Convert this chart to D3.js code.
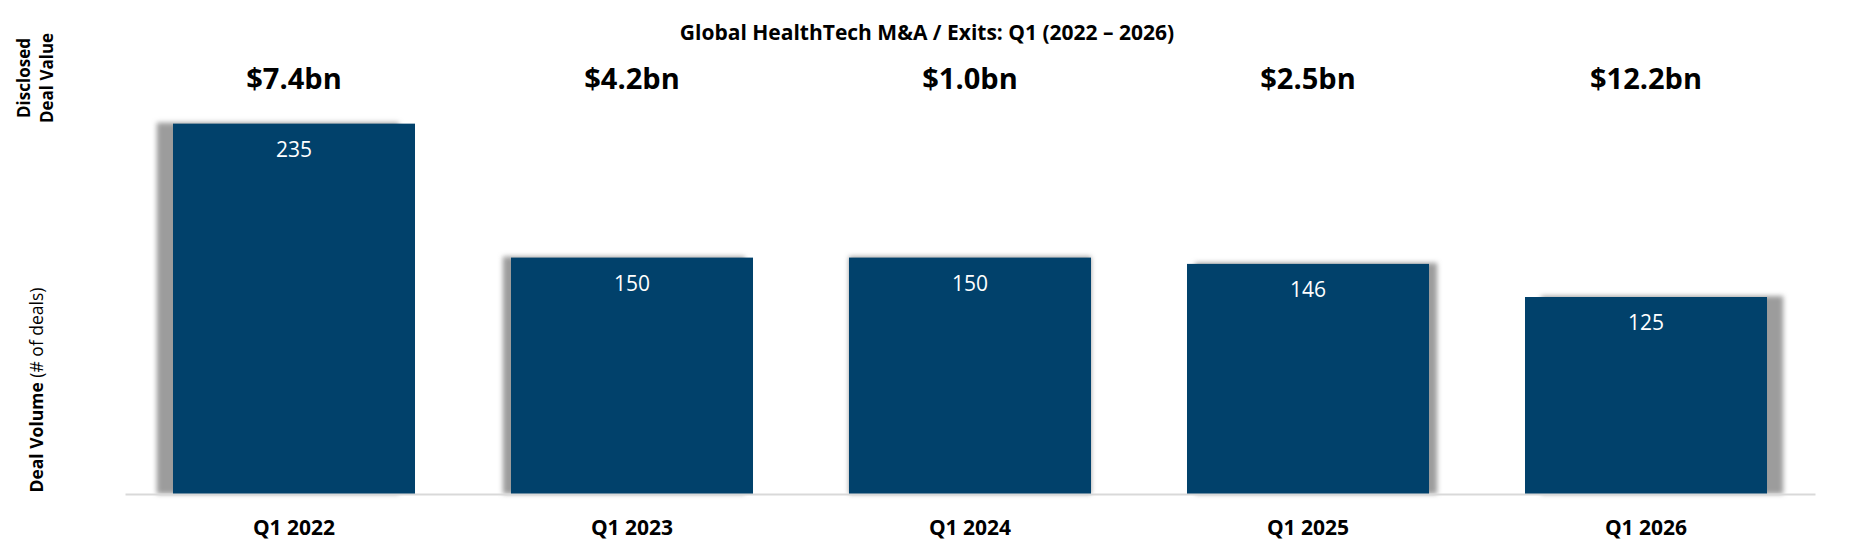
<!DOCTYPE html>
<html>
<head>
<meta charset="utf-8">
<script src="https://cdn.jsdelivr.net/npm/d3@7"></script>
<style>
    body { margin: 0; background: #ffffff; }
    svg { display: block; font-family: "Open Sans", "Noto Sans", sans-serif; }
</style>
</head>
<body>
<div id="chart"></div>
<script>
// Chart data
const quarters = ["Q1 2022", "Q1 2023", "Q1 2024", "Q1 2025", "Q1 2026"];
const dealVolume = [235, 150, 150, 146, 125];
const dealValue = ["$7.4bn", "$4.2bn", "$1.0bn", "$2.5bn", "$12.2bn"];
const chartTitle = "Global HealthTech M&A / Exits: Q1 (2022 – 2026)";

// Dimensions
width = 1854;
height = 548;
plotLeft = 125;
plotRight = 1815;
baseY = 494;

barColor = "#01416b";

svg = d3.select('#chart').append('svg')
    .attr('width', width)
    .attr('height', height);

// Blur for the bar shadows
svg.append('defs')
    .append('filter')
    .attr('id', 'barShadow')
    .attr('x', '-20%').attr('y', '-20%')
    .attr('width', '140%').attr('height', '140%')
    .append('feGaussianBlur')
    .attr('stdDeviation', 2.5);

// Scales
const xScale = d3.scaleBand()
    .domain(quarters)
    .range([plotLeft, plotRight])
    .paddingInner(0.284)
    .paddingOuter(0.142);

const yScale = d3.scaleLinear()
    .domain([0, 250])
    .range([baseY, 100]);

const rows = quarters.map((q, i) => ({ q: q, vol: dealVolume[i], val: dealValue[i] }));
const midX = (plotLeft + plotRight) / 2;

// Shadows (pushed outwards from the middle of the chart)
svg.append('g').selectAll('rect')
    .data(rows)
    .enter()
    .append('rect')
    .attr('x', d => xScale(d.q) + (xScale(d.q) + xScale.bandwidth() / 2 - midX) * 0.024)
    .attr('y', d => yScale(d.vol) - 1)
    .attr('width', xScale.bandwidth())
    .attr('height', d => baseY - yScale(d.vol) + 1)
    .attr('fill', '#9c9c9c')
    .attr('filter', 'url(#barShadow)');

// Bars
svg.append('g').selectAll('rect')
    .data(rows)
    .enter()
    .append('rect')
    .attr('x', d => xScale(d.q))
    .attr('y', d => yScale(d.vol))
    .attr('width', xScale.bandwidth())
    .attr('height', d => baseY - yScale(d.vol))
    .attr('fill', barColor);

// Volume labels inside bars
svg.append('g').selectAll('text')
    .data(rows)
    .enter()
    .append('text')
    .attr('x', d => xScale(d.q) + xScale.bandwidth() / 2)
    .attr('y', d => yScale(d.vol) + 33)
    .attr('text-anchor', 'middle')
    .attr('fill', '#ffffff')
    .style('font-size', '21px')
    .text(d => d.vol);

// Disclosed value labels above the bars
svg.append('g').selectAll('text')
    .data(rows)
    .enter()
    .append('text')
    .attr('x', d => xScale(d.q) + xScale.bandwidth() / 2)
    .attr('y', 89)
    .attr('text-anchor', 'middle')
    .attr('fill', '#000000')
    .style('font-size', '29px')
    .style('font-weight', 'bold')
    .text(d => d.val);

// X axis
xAxis = svg.append('g')
    .attr('transform', 'translate(0,' + baseY + ')')
    .call(d3.axisBottom(xScale).tickSize(0));

xAxis.select('.domain')
    .attr('stroke', '#d9d9d9')
    .attr('stroke-width', 2);

xAxis.selectAll('.tick text')
    .attr('y', 41)
    .attr('dy', 0)
    .attr('fill', '#000000')
    .style('font-family', '"Open Sans", "Noto Sans", sans-serif')
    .style('font-size', '21px')
    .style('font-weight', 'bold');

// Title
svg.append('text')
    .attr('x', 927)
    .attr('y', 40)
    .attr('text-anchor', 'middle')
    .style('font-size', '21px')
    .style('font-weight', 'bold')
    .text(chartTitle);

// Y titles
svg.append('text')
    .attr('transform', 'translate(30,78) rotate(-90)')
    .attr('text-anchor', 'middle')
    .style('font-size', '17px')
    .style('font-weight', 'bold')
    .text('Disclosed');

svg.append('text')
    .attr('transform', 'translate(53,78) rotate(-90)')
    .attr('text-anchor', 'middle')
    .style('font-size', '17px')
    .style('font-weight', 'bold')
    .text('Deal Value');

volTitle = svg.append('text')
    .attr('transform', 'translate(43,390) rotate(-90)')
    .attr('text-anchor', 'middle')
    .style('font-size', '17.5px');
volTitle.append('tspan').style('font-weight', 'bold').text('Deal Volume ');
volTitle.append('tspan').text('(# of deals)');
</script>
</body>
</html>
